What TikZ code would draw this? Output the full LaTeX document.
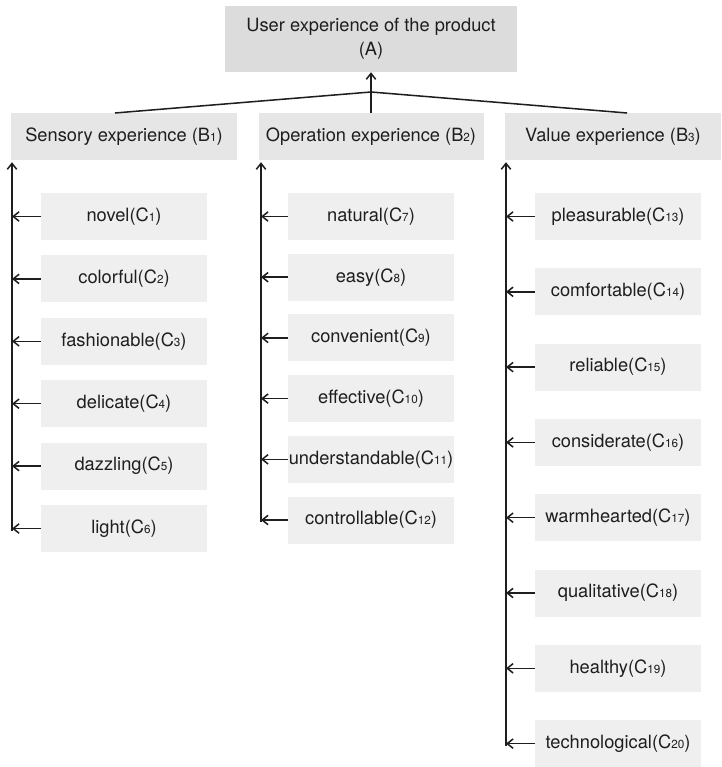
\documentclass[tikz,border=0pt]{standalone}
\usepackage{fontspec}
\setmainfont{TeX Gyre Heros}
\usetikzlibrary{calc,arrows.meta}

\definecolor{grisA}{HTML}{DCDCDC}
\definecolor{grisB}{HTML}{E6E6E6}
\definecolor{grisC}{HTML}{EFEFEF}
\definecolor{tinta}{HTML}{1E1E1E}

\newcommand{\ind}[1]{{\fontsize{10}{10}\selectfont #1}} % subindice pequeño

\tikzset{
  caja/.style={rectangle, inner sep=0pt, text=tinta, font=\fontsize{15.6}{20.5}\selectfont},
  cajaA/.style={caja, fill=grisA, minimum width=8.76cm, minimum height=1.98cm, align=center},
  cajaB/.style={caja, fill=grisB, minimum height=1.41cm},
  cajaC/.style={caja, fill=grisC, minimum width=4.98cm, minimum height=1.41cm},
  linea/.style={line width=1.3pt, draw=tinta},
  flecha/.style={linea, -{Straight Barb[length=5pt,width=8pt,line width=1.3pt]}}
}

\begin{document}
\begin{tikzpicture}[x=0.03cm,y=-0.03cm]
            \useasboundingbox (0,0) rectangle (721,767); % Marco de la figura

            % Nivel A
            \node[cajaA] (A) at (371,39) {User experience of the product\\(A)}; % Caja superior

            % Nivel B
            \node[cajaB, minimum width=6.78cm] (B1) at (124,136.5) {Sensory experience (B\ind{1})}; % Experiencia sensorial
            \node[cajaB, minimum width=6.75cm] (B2) at (371,136.5) {Operation experience (B\ind{2})}; % Experiencia de operación
            \node[cajaB, minimum width=6.48cm] (B3) at (613,136.5) {Value experience (B\ind{3})}; % Experiencia de valor

            % Uniones hacia A
            \coordinate (union) at (371,92); % Punto de unión
            \coordinate (b1a) at (115,113); % Llegada sobre B1
            \coordinate (b3a) at (627,113); % Llegada sobre B3
            \draw[linea] (b1a) -- (union) -- (b3a); % Líneas inclinadas
            \draw[linea] (B2.north) -- (union); % Línea desde B2
            \draw[flecha] (union) -- (A.south); % Flecha hacia A

            % Columna 1
            \node[cajaC] (c1) at (124,216.5) {novel(C\ind{1})};
            \node[cajaC] (c2) at (124,278.9) {colorful(C\ind{2})};
            \node[cajaC] (c3) at (124,341.3) {fashionable(C\ind{3})};
            \node[cajaC] (c4) at (124,403.7) {delicate(C\ind{4})};
            \node[cajaC] (c5) at (124,466.1) {dazzling(C\ind{5})};
            \node[cajaC] (c6) at (124,528.5) {light(C\ind{6})};

            % Columna 2
            \node[cajaC] (c7) at (371,216.5) {natural(C\ind{7})};
            \node[cajaC] (c8) at (371,277.2) {easy(C\ind{8})};
            \node[cajaC] (c9) at (371,337.9) {convenient(C\ind{9})};
            \node[cajaC] (c10) at (371,398.6) {effective(C\ind{10})};
            \node[cajaC] (c11) at (371,459.3) {understandable(C\ind{11})};
            \node[cajaC] (c12) at (371,520) {controllable(C\ind{12})};

            % Columna 3
            \node[cajaC] (c13) at (618,216.5) {pleasurable(C\ind{13})};
            \node[cajaC] (c14) at (618,291.8) {comfortable(C\ind{14})};
            \node[cajaC] (c15) at (618,367.1) {reliable(C\ind{15})};
            \node[cajaC] (c16) at (618,442.4) {considerate(C\ind{16})};
            \node[cajaC] (c17) at (618,517.7) {warmhearted(C\ind{17})};
            \node[cajaC] (c18) at (618,593) {qualitative(C\ind{18})};
            \node[cajaC] (c19) at (618,668.3) {healthy(C\ind{19})};
            \node[cajaC] (c20) at (618,743.6) {technological(C\ind{20})};

            % Ejes verticales
            \coordinate (v1) at (12,530.5); % Pie del eje 1
            \coordinate (v2) at (261,522); % Pie del eje 2
            \coordinate (v3) at (506,745.6); % Pie del eje 3
            \draw[flecha] (v1) -- ($(v1 |- B1.south)+(0,2)$); % Eje hacia B1
            \draw[flecha] (v2) -- ($(v2 |- B2.south)+(0,2)$); % Eje hacia B2
            \draw[flecha] (v3) -- ($(v3 |- B3.south)+(0,2)$); % Eje hacia B3

            % Flechas de C hacia los ejes
            \draw[flecha] (c1.west) -- (c1.west -| v1);
            \draw[flecha] (c2.west) -- (c2.west -| v1);
            \draw[flecha] (c3.west) -- (c3.west -| v1);
            \draw[flecha] (c4.west) -- (c4.west -| v1);
            \draw[flecha] (c5.west) -- (c5.west -| v1);
            \draw[flecha] (c6.west) -- (c6.west -| v1);
            \draw[flecha] (c7.west) -- (c7.west -| v2);
            \draw[flecha] (c8.west) -- (c8.west -| v2);
            \draw[flecha] (c9.west) -- (c9.west -| v2);
            \draw[flecha] (c10.west) -- (c10.west -| v2);
            \draw[flecha] (c11.west) -- (c11.west -| v2);
            \draw[flecha] (c12.west) -- (c12.west -| v2);
            \draw[flecha] (c13.west) -- (c13.west -| v3);
            \draw[flecha] (c14.west) -- (c14.west -| v3);
            \draw[flecha] (c15.west) -- (c15.west -| v3);
            \draw[flecha] (c16.west) -- (c16.west -| v3);
            \draw[flecha] (c17.west) -- (c17.west -| v3);
            \draw[flecha] (c18.west) -- (c18.west -| v3);
            \draw[flecha] (c19.west) -- (c19.west -| v3);
            \draw[flecha] (c20.west) -- (c20.west -| v3);
        \end{tikzpicture}
\end{document}
